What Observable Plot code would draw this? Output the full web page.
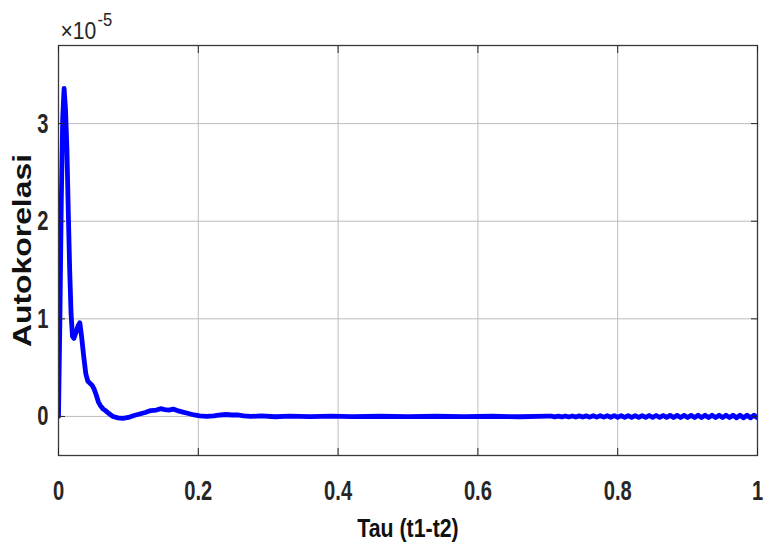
<!DOCTYPE html>
<html><head><meta charset="utf-8">
<script src="https://cdn.jsdelivr.net/npm/d3@7"></script>
<script src="https://cdn.jsdelivr.net/npm/@observablehq/plot@0.6"></script>
<style>html,body{margin:0;padding:0;background:#fff} svg{display:block}</style>
</head><body><div id="chart"></div>
<script>
// Lag (tau) and autocorrelation values (in units of 1e-5)
const tau = [0, 0.002, 0.004, 0.006, 0.008, 0.010, 0.012, 0.014, 0.016, 0.018,
  0.020, 0.022, 0.025, 0.028, 0.0305, 0.033, 0.036, 0.039, 0.042, 0.045,
  0.048, 0.051, 0.054, 0.057, 0.060, 0.064, 0.068, 0.072, 0.078, 0.085,
  0.092, 0.100, 0.108, 0.116, 0.124, 0.132, 0.140, 0.146, 0.152, 0.158,
  0.164, 0.170, 0.178, 0.186, 0.194, 0.202, 0.212, 0.222, 0.232, 0.240,
  0.248, 0.256, 0.265, 0.275, 0.29, 0.31, 0.33, 0.36, 0.39, 0.42,
  0.46, 0.50, 0.54, 0.58, 0.62, 0.66, 0.70];
const acf = [0, 1.0, 2.2, 3.05, 3.36, 3.15, 2.75, 2.1, 1.5, 1.05,
  0.82, 0.80, 0.86, 0.93, 0.96, 0.82, 0.62, 0.44, 0.36, 0.34,
  0.32, 0.28, 0.22, 0.15, 0.11, 0.075, 0.055, 0.03, 0.0, -0.015,
  -0.02, -0.01, 0.01, 0.025, 0.04, 0.06, 0.065, 0.08, 0.07, 0.065,
  0.075, 0.06, 0.045, 0.03, 0.015, 0.005, 0.0, 0.005, 0.015, 0.02,
  0.015, 0.015, 0.005, 0.0, 0.005, -0.003, 0.004, -0.002, 0.003, -0.002,
  0.002, -0.002, 0.002, -0.002, 0.002, -0.003, 0.003];
// Small ripple in the tail
const tailTau = [0.705,0.71,0.715,0.72,0.725,0.73,0.735,0.74,0.745,0.75,
  0.755,0.76,0.765,0.77,0.775,0.78,0.785,0.79,0.795,0.8,
  0.805,0.81,0.815,0.82,0.825,0.83,0.835,0.84,0.845,0.85,
  0.855,0.86,0.865,0.87,0.875,0.88,0.885,0.89,0.895,0.9,
  0.905,0.91,0.915,0.92,0.925,0.93,0.935,0.94,0.945,0.95,
  0.955,0.96,0.965,0.97,0.975,0.98,0.985,0.99,0.995,1.0];
const tailAcf = [0.004,-0.004,0.004,-0.005,0.005,-0.005,0.005,-0.006,0.006,-0.006,
  0.006,-0.007,0.007,-0.007,0.007,-0.007,0.008,-0.008,0.008,-0.008,
  0.008,-0.009,0.009,-0.009,0.009,-0.009,0.009,-0.010,0.010,-0.010,
  0.010,-0.010,0.010,-0.010,0.011,-0.011,0.011,-0.011,0.011,-0.011,
  0.011,-0.011,0.012,-0.012,0.012,-0.012,0.012,-0.012,0.012,-0.012,
  0.012,-0.012,0.013,-0.013,0.013,-0.013,0.013,-0.013,0.013,-0.013];

const xTicks = [0, 0.2, 0.4, 0.6, 0.8, 1];
const xTickLabels = ["0", "0.2", "0.4", "0.6", "0.8", "1"];
const yTicks = [0, 1, 2, 3];
const yTickLabels = ["0", "1", "2", "3"];
const xLabel = ["Tau (t1-t2)"];
const yLabel = ["Autokorelasi"];
const expBase = ["\u00d710"];
const expPower = ["-5"];

const data = tau.concat(tailTau).map((t, i) => ({tau: t, value: acf.concat(tailAcf)[i]}));
const font = "'Liberation Sans', Arial, Helvetica, sans-serif";
const ink = "#262626";

const chart = Plot.plot({
  width: 767, height: 552,
  marginLeft: 58, marginRight: 10, marginTop: 45, marginBottom: 97,
  x: {domain: [0, 1], axis: null},
  y: {domain: [-0.4, 3.8], axis: null},
  style: {fontFamily: font, background: "#fff", overflow: "visible"},
  marks: [
    Plot.gridX(xTicks, {stroke: "#bdbdbd", strokeOpacity: 1}),
    Plot.gridY(yTicks, {stroke: "#bdbdbd", strokeOpacity: 1}),
    Plot.line(data, {x: "tau", y: "value", stroke: "#0000ff", strokeWidth: 4.8, clip: true}),
    Plot.frame({stroke: "#3a3a3a", strokeWidth: 1.3}),
    Plot.axisX(xTicks, {anchor: "bottom", tickSize: -7, tickFormat: () => "", label: null, stroke: ink}),
    Plot.axisX(xTicks, {anchor: "top", tickSize: -7, tickFormat: () => "", label: null, stroke: ink}),
    Plot.axisY(yTicks, {anchor: "left", tickSize: -7, tickFormat: () => "", label: null, stroke: ink}),
    Plot.axisY(yTicks, {anchor: "right", tickSize: -7, tickFormat: () => "", label: null, stroke: ink}),
    // 0: x tick labels
    Plot.text(xTicks, {x: d => d, text: (d, i) => xTickLabels[i], frameAnchor: "bottom", lineAnchor: "top", dy: 25,
      fontSize: 28, fontWeight: "bold", fill: ink}),
    // 1: y tick labels
    Plot.text(yTicks, {y: d => d, text: (d, i) => yTickLabels[i], frameAnchor: "left", textAnchor: "end", dx: -10,
      fontSize: 28, fontWeight: "bold", fill: ink}),
    // 2: x label
    Plot.text(xLabel, {text: d => d, frameAnchor: "bottom", lineAnchor: "top", dy: 63,
      fontSize: 26, fontWeight: "bold", fill: "#111"}),
    // 3: y label
    Plot.text(yLabel, {text: d => d, frameAnchor: "left", textAnchor: "middle", rotate: -90, dx: -36,
      fontSize: 25.5, fontWeight: "bold", fill: "#111"}),
    // 4: exponent base
    Plot.text(expBase, {text: d => d, frameAnchor: "top-left", textAnchor: "start", lineAnchor: "bottom", dx: 2, dy: -7,
      fontSize: 23, fill: ink}),
    // 5: exponent power
    Plot.text(expPower, {text: d => d, frameAnchor: "top-left", textAnchor: "start", lineAnchor: "bottom", dx: 39, dy: -20,
      fontSize: 18, fill: ink})
  ]
});
document.getElementById("chart").appendChild(chart);

// condense the text horizontally like the reference
const scales = [0.72, 0.72, 0.82, 1.25, 0.92, 0.92];
d3.select(chart).selectAll('g[aria-label="text"]').each(function(_, i) {
  const s = scales[i] ?? 1;
  d3.select(this).selectAll("text").each(function() {
    const t = this.getAttribute("transform") || "";
    this.setAttribute("transform", (t + ` scale(${s},1)`).trim());
  });
});
</script>
</body></html>
